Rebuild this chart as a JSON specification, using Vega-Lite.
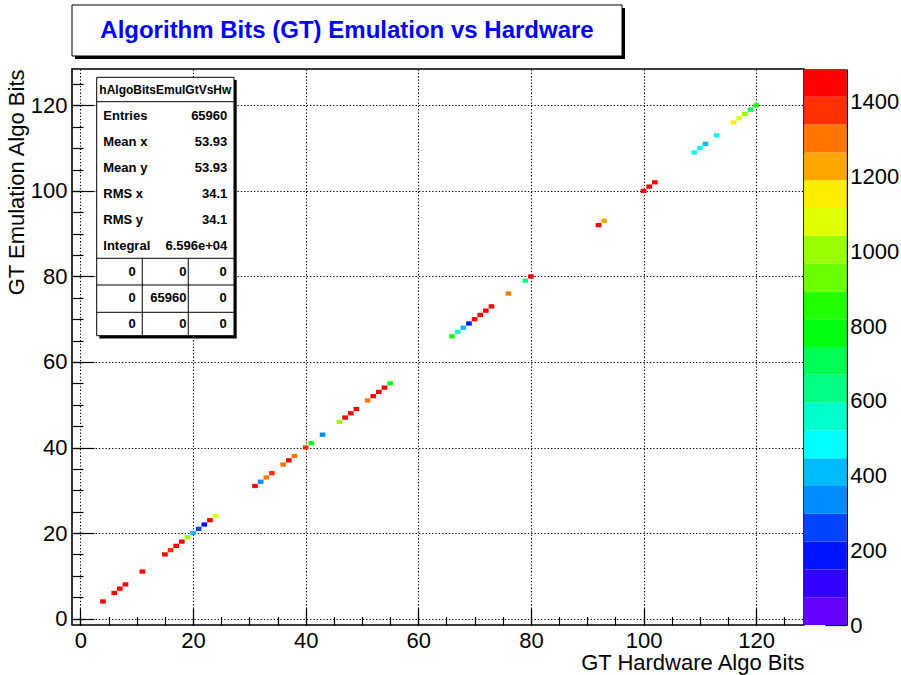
{
  "$schema": "https://vega.github.io/schema/vega-lite/v6.json",
  "width": 732,
  "height": 556,
  "autosize": {"type": "none"},
  "padding": {"left": 72, "top": 69, "right": 97, "bottom": 50},
  "background": "white",
  "config": {
    "view": {"stroke": "black", "strokeWidth": 1.6},
    "font": "Liberation Sans",
    "axis": {"labelFont": "Liberation Sans", "titleFont": "Liberation Sans", "labelColor": "black", "titleColor": "black", "tickColor": "black", "domainColor": "black", "titleFontWeight": "normal", "labelFlush": false, "labelOverlap": false}
  },
  "datasets": {
    "cells": [
      {"hw": 4, "emu": 4, "count": 1465}, {"hw": 6, "emu": 6, "count": 1465}, {"hw": 7, "emu": 7, "count": 1465},
      {"hw": 8, "emu": 8, "count": 1488}, {"hw": 11, "emu": 11, "count": 1488}, {"hw": 15, "emu": 15, "count": 1488},
      {"hw": 16, "emu": 16, "count": 1376}, {"hw": 17, "emu": 17, "count": 1488}, {"hw": 18, "emu": 18, "count": 1488},
      {"hw": 19, "emu": 19, "count": 1004}, {"hw": 20, "emu": 20, "count": 397}, {"hw": 21, "emu": 21, "count": 248},
      {"hw": 22, "emu": 22, "count": 175}, {"hw": 23, "emu": 23, "count": 1488}, {"hw": 24, "emu": 24, "count": 1079},
      {"hw": 31, "emu": 31, "count": 1488}, {"hw": 32, "emu": 32, "count": 335}, {"hw": 33, "emu": 33, "count": 1302},
      {"hw": 34, "emu": 34, "count": 1376}, {"hw": 36, "emu": 36, "count": 1302}, {"hw": 37, "emu": 37, "count": 1488},
      {"hw": 38, "emu": 38, "count": 1302}, {"hw": 40, "emu": 40, "count": 1376}, {"hw": 41, "emu": 41, "count": 781},
      {"hw": 43, "emu": 43, "count": 335}, {"hw": 46, "emu": 46, "count": 1004}, {"hw": 47, "emu": 47, "count": 1488},
      {"hw": 48, "emu": 48, "count": 1488}, {"hw": 49, "emu": 49, "count": 1488}, {"hw": 51, "emu": 51, "count": 1302},
      {"hw": 52, "emu": 52, "count": 1488}, {"hw": 53, "emu": 53, "count": 1488}, {"hw": 54, "emu": 54, "count": 1488},
      {"hw": 55, "emu": 55, "count": 781},
      {"hw": 66, "emu": 66, "count": 856}, {"hw": 67, "emu": 67, "count": 558}, {"hw": 68, "emu": 68, "count": 409},
      {"hw": 69, "emu": 69, "count": 186}, {"hw": 70, "emu": 70, "count": 1488}, {"hw": 71, "emu": 71, "count": 1488},
      {"hw": 72, "emu": 72, "count": 1488}, {"hw": 73, "emu": 73, "count": 1488}, {"hw": 76, "emu": 76, "count": 1302},
      {"hw": 79, "emu": 79, "count": 632}, {"hw": 80, "emu": 80, "count": 1488},
      {"hw": 92, "emu": 92, "count": 1488}, {"hw": 93, "emu": 93, "count": 1228}, {"hw": 100, "emu": 100, "count": 1488},
      {"hw": 101, "emu": 101, "count": 1488}, {"hw": 102, "emu": 102, "count": 1488}, {"hw": 109, "emu": 109, "count": 484},
      {"hw": 110, "emu": 110, "count": 484}, {"hw": 111, "emu": 111, "count": 409}, {"hw": 113, "emu": 113, "count": 484},
      {"hw": 116, "emu": 116, "count": 1153}, {"hw": 117, "emu": 117, "count": 1079}, {"hw": 118, "emu": 118, "count": 1015},
      {"hw": 119, "emu": 119, "count": 719}, {"hw": 120, "emu": 120, "count": 868}
    ],
    "stats": [
      {"row": 1, "label": "Entries", "value": "65960"},
      {"row": 2, "label": "Mean x", "value": "53.93"},
      {"row": 3, "label": "Mean y", "value": "53.93"},
      {"row": 4, "label": "RMS x", "value": "34.1"},
      {"row": 5, "label": "RMS y", "value": "34.1"},
      {"row": 6, "label": "Integral", "value": "6.596e+04"}
    ],
    "table": [
      {"row": 7, "c1": "0", "c2": "0", "c3": "0"},
      {"row": 8, "c1": "0", "c2": "65960", "c3": "0"},
      {"row": 9, "c1": "0", "c2": "0", "c3": "0"}
    ],
    "header": [{"text": "hAlgoBitsEmulGtVsHw"}],
    "title": [{"text": "Algorithm Bits (GT) Emulation vs Hardware"}],
    "one": [{"k": 0}],
    "bands": [
      {"lo": 0, "hi": 74.4}, {"lo": 74.4, "hi": 148.8}, {"lo": 148.8, "hi": 223.2}, {"lo": 223.2, "hi": 297.6},
      {"lo": 297.6, "hi": 372}, {"lo": 372, "hi": 446.4}, {"lo": 446.4, "hi": 520.8}, {"lo": 520.8, "hi": 595.2},
      {"lo": 595.2, "hi": 669.6}, {"lo": 669.6, "hi": 744}, {"lo": 744, "hi": 818.4}, {"lo": 818.4, "hi": 892.8},
      {"lo": 892.8, "hi": 967.2}, {"lo": 967.2, "hi": 1041.6}, {"lo": 1041.6, "hi": 1116}, {"lo": 1116, "hi": 1190.4},
      {"lo": 1190.4, "hi": 1264.8}, {"lo": 1264.8, "hi": 1339.2}, {"lo": 1339.2, "hi": 1413.6}, {"lo": 1413.6, "hi": 1488}
    ]
  },
  "layer": [
    {
      "layer": [
        {
          "data": {"name": "cells"},
          "mark": {"type": "rect", "width": 5.63, "height": 4.28},
          "encoding": {
            "x": {"field": "hw", "type": "quantitative",
              "scale": {"domain": [-1.5, 128.5], "nice": false, "zero": false},
              "axis": {"orient": "bottom", "values": [0, 20, 40, 60, 80, 100, 120], "domain": false, "grid": true, "gridColor": "black", "gridDash": [1.3, 2], "gridWidth": 1.1, "gridOpacity": 1,
                "tickSize": -17, "tickWidth": 1.2, "labelPadding": 22, "labelFontSize": 22, "labelBaseline": "top",
                "title": "GT Hardware Algo Bits", "titleFontSize": 22, "titleAnchor": "end", "titlePadding": 1}},
            "y": {"field": "emu", "type": "quantitative",
              "scale": {"domain": [-1.5, 128.5], "nice": false, "zero": false},
              "axis": {"orient": "left", "values": [0, 20, 40, 60, 80, 100, 120], "domain": false, "grid": true, "gridColor": "black", "gridDash": [1.3, 2], "gridWidth": 1.1, "gridOpacity": 1,
                "tickSize": -22, "tickWidth": 1.2, "labelPadding": 27, "labelFontSize": 22,
                "title": "GT Emulation Algo Bits", "titleFontSize": 22, "titleAnchor": "end", "titlePadding": 2}},
            "color": {"field": "count", "type": "quantitative",
              "scale": {"type": "quantize", "domain": [0, 1488], "range": ["#6300ff", "#3300ff", "#0014ff", "#0044ff", "#008bff", "#00bbff", "#00fffc", "#00ffcc", "#00ff85", "#00ff55", "#00ff0e", "#22ff00", "#69ff00", "#99ff00", "#e0ff00", "#ffee00", "#ffa700", "#ff7700", "#ff3000", "#ff0000"]},
              "legend": null}
          }
        },
        {
          "data": {"name": "cells"},
          "mark": {"type": "rect", "width": 5.63, "height": 4.28, "opacity": 0},
          "encoding": {
            "x": {"field": "hw", "type": "quantitative",
              "axis": {"orient": "bottom", "values": [0, 5, 10, 15, 20, 25, 30, 35, 40, 45, 50, 55, 60, 65, 70, 75, 80, 85, 90, 95, 100, 105, 110, 115, 120, 125], "domain": false, "grid": false, "labels": false, "tickSize": -8.5, "tickWidth": 1.2, "title": null}},
            "y": {"field": "emu", "type": "quantitative",
              "axis": {"orient": "left", "values": [0, 5, 10, 15, 20, 25, 30, 35, 40, 45, 50, 55, 60, 65, 70, 75, 80, 85, 90, 95, 100, 105, 110, 115, 120, 125], "domain": false, "grid": false, "labels": false, "tickSize": -11, "tickWidth": 1.2, "title": null}}
          }
        }
      ],
      "resolve": {"axis": {"x": "independent", "y": "independent"}}
    },
    {
      "layer": [
        {
          "data": {"name": "one"},
          "mark": {"type": "rect", "fill": "black"},
          "encoding": {
            "x": {"datum": -0.968, "type": "quantitative", "axis": null},
            "x2": {"datum": 96.71},
            "y": {"datum": -3.139, "type": "quantitative", "axis": null, "scale": {"domain": [-0.795, 20.565], "reverse": true, "nice": false, "zero": false}},
            "y2": {"datum": -1.179}
          }
        },
        {
          "data": {"name": "one"},
          "mark": {"type": "rect", "fill": "white", "stroke": "black", "strokeWidth": 1},
          "encoding": {
            "x": {"datum": -1.5, "type": "quantitative", "axis": null},
            "x2": {"datum": 96.18},
            "y": {"datum": -3.254, "type": "quantitative", "axis": null},
            "y2": {"datum": -1.295}
          }
        },
        {
          "data": {"name": "title"},
          "mark": {"type": "text", "align": "center", "baseline": "middle", "fontSize": 24, "fontWeight": "bold", "font": "Liberation Sans", "color": "#0000ff"},
          "encoding": {
            "x": {"datum": 47.34, "type": "quantitative", "axis": null},
            "y": {"datum": -2.255, "type": "quantitative", "axis": null},
            "text": {"field": "text"}
          }
        },
        {
          "data": {"name": "one"},
          "mark": {"type": "rect", "fill": "black"},
          "encoding": {
            "x": {"datum": 3.365, "type": "quantitative", "axis": null},
            "x2": {"datum": 27.75},
            "y": {"datum": -0.373, "type": "quantitative", "axis": null},
            "y2": {"datum": 9.554}
          }
        },
        {
          "data": {"name": "one"},
          "mark": {"type": "rect", "fill": "white", "stroke": "black", "strokeWidth": 1},
          "encoding": {
            "x": {"datum": 2.886, "type": "quantitative", "axis": null},
            "x2": {"datum": 27.27},
            "y": {"datum": -0.476, "type": "quantitative", "axis": null},
            "y2": {"datum": 9.451}
          }
        },
        {
          "data": {"name": "one"},
          "mark": {"type": "rule", "color": "black", "strokeWidth": 1},
          "encoding": {"x": {"datum": 2.886, "type": "quantitative", "axis": null}, "x2": {"datum": 27.27}, "y": {"datum": 0.461, "type": "quantitative", "axis": null}}
        },
        {
          "data": {"name": "one"},
          "mark": {"type": "rule", "color": "black", "strokeWidth": 1},
          "encoding": {"x": {"datum": 2.886, "type": "quantitative", "axis": null}, "x2": {"datum": 27.27}, "y": {"datum": 6.477, "type": "quantitative", "axis": null}}
        },
        {
          "data": {"name": "one"},
          "mark": {"type": "rule", "color": "black", "strokeWidth": 1},
          "encoding": {"x": {"datum": 2.886, "type": "quantitative", "axis": null}, "x2": {"datum": 27.27}, "y": {"datum": 7.503, "type": "quantitative", "axis": null}}
        },
        {
          "data": {"name": "one"},
          "mark": {"type": "rule", "color": "black", "strokeWidth": 1},
          "encoding": {"x": {"datum": 2.886, "type": "quantitative", "axis": null}, "x2": {"datum": 27.27}, "y": {"datum": 8.552, "type": "quantitative", "axis": null}}
        },
        {
          "data": {"name": "one"},
          "mark": {"type": "rule", "color": "black", "strokeWidth": 1},
          "encoding": {"x": {"datum": 10.98, "type": "quantitative", "axis": null}, "y": {"datum": 6.477, "type": "quantitative", "axis": null}, "y2": {"datum": 9.451}}
        },
        {
          "data": {"name": "one"},
          "mark": {"type": "rule", "color": "black", "strokeWidth": 1},
          "encoding": {"x": {"datum": 19.15, "type": "quantitative", "axis": null}, "y": {"datum": 6.477, "type": "quantitative", "axis": null}, "y2": {"datum": 9.451}}
        },
        {
          "data": {"name": "header"},
          "mark": {"type": "text", "align": "center", "baseline": "middle", "fontSize": 12, "fontWeight": "bold", "font": "Liberation Sans", "color": "black"},
          "encoding": {"x": {"datum": 15.07, "type": "quantitative", "axis": null}, "y": {"datum": 0, "type": "quantitative", "axis": null}, "text": {"field": "text"}}
        },
        {
          "data": {"name": "stats"},
          "mark": {"type": "text", "align": "left", "baseline": "middle", "fontSize": 13, "fontWeight": "bold", "font": "Liberation Sans", "color": "black"},
          "encoding": {"x": {"datum": 4.058, "type": "quantitative", "axis": null}, "y": {"field": "row", "type": "quantitative", "axis": null}, "text": {"field": "label"}}
        },
        {
          "data": {"name": "stats"},
          "mark": {"type": "text", "align": "right", "baseline": "middle", "fontSize": 13, "fontWeight": "bold", "font": "Liberation Sans", "color": "black"},
          "encoding": {"x": {"datum": 26.08, "type": "quantitative", "axis": null}, "y": {"field": "row", "type": "quantitative", "axis": null}, "text": {"field": "value"}}
        },
        {
          "data": {"name": "table"},
          "mark": {"type": "text", "align": "right", "baseline": "middle", "fontSize": 13, "fontWeight": "bold", "font": "Liberation Sans", "color": "black"},
          "encoding": {"x": {"datum": 9.81, "type": "quantitative", "axis": null}, "y": {"field": "row", "type": "quantitative", "axis": null}, "text": {"field": "c1"}}
        },
        {
          "data": {"name": "table"},
          "mark": {"type": "text", "align": "right", "baseline": "middle", "fontSize": 13, "fontWeight": "bold", "font": "Liberation Sans", "color": "black"},
          "encoding": {"x": {"datum": 18.83, "type": "quantitative", "axis": null}, "y": {"field": "row", "type": "quantitative", "axis": null}, "text": {"field": "c2"}}
        },
        {
          "data": {"name": "table"},
          "mark": {"type": "text", "align": "right", "baseline": "middle", "fontSize": 13, "fontWeight": "bold", "font": "Liberation Sans", "color": "black"},
          "encoding": {"x": {"datum": 25.97, "type": "quantitative", "axis": null}, "y": {"field": "row", "type": "quantitative", "axis": null}, "text": {"field": "c3"}}
        }
      ]
    },
    {
      "layer": [
        {
          "data": {"name": "bands"},
          "mark": {"type": "rect"},
          "encoding": {
            "x": {"datum": 128.5, "type": "quantitative", "axis": null},
            "x2": {"datum": 136.08},
            "y": {"field": "lo", "type": "quantitative",
              "scale": {"domain": [0, 1488], "nice": false, "zero": true},
              "axis": {"orient": "right", "offset": 42.7, "values": [0, 200, 400, 600, 800, 1000, 1200, 1400], "format": "d", "domain": true, "domainColor": "black", "domainWidth": 1.5, "grid": false, "tickSize": -22, "tickWidth": 1.2, "labelPadding": 25, "labelFontSize": 22, "title": null}},
            "y2": {"field": "hi"},
            "color": {"field": "lo", "type": "quantitative",
              "scale": {"type": "quantize", "domain": [0, 1488], "range": ["#6300ff", "#3300ff", "#0014ff", "#0044ff", "#008bff", "#00bbff", "#00fffc", "#00ffcc", "#00ff85", "#00ff55", "#00ff0e", "#22ff00", "#69ff00", "#99ff00", "#e0ff00", "#ffee00", "#ffa700", "#ff7700", "#ff3000", "#ff0000"]},
              "legend": null}
          }
        }
      ]
    }
  ],
  "resolve": {"scale": {"y": "independent"}, "axis": {"x": "independent", "y": "independent"}}
}
